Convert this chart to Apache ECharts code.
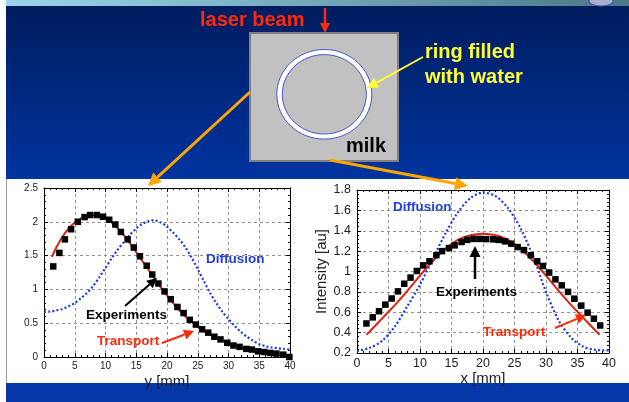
<!DOCTYPE html>
<html>
<head>
<meta charset="utf-8">
<script src="https://cdn.jsdelivr.net/npm/echarts@6/dist/echarts.min.js"></script>
<style>
  html, body { margin: 0; padding: 0; background: #fff; }
  #chart { width: 629px; height: 402px; }
</style>
</head>
<body>
<div id="chart"></div>
<script>
// left plot: profile along y
var leftExpX = [1.5, 2.5, 3.4, 4.4, 5.5, 6.6, 7.5, 8.6, 9.6, 10.6, 11.6, 12.5, 13.6, 14.6, 15.6, 16.7, 17.6, 18.6, 19.6, 20.6,
    21.7, 22.7, 23.7, 24.7, 25.7, 26.7, 27.7, 28.7, 29.8, 30.8, 31.8, 32.9, 33.8, 34.8, 35.8, 36.8, 37.8, 38.9, 39.9];
var leftExpY = [1.34, 1.54, 1.74, 1.89, 2.0, 2.07, 2.1, 2.1, 2.075, 2.03, 1.96, 1.85, 1.74, 1.62, 1.49, 1.35, 1.22, 1.087, 0.97, 0.855,
    0.74, 0.65, 0.55, 0.48, 0.41, 0.36, 0.3, 0.26, 0.21, 0.17, 0.15, 0.12, 0.11, 0.084, 0.074, 0.06, 0.05, 0.035, 0.0];
var leftTransX = [1.3, 2, 3, 4, 5, 6, 7, 8, 9, 10, 11, 12, 13, 14, 15, 16, 17, 18, 19, 20,
    21, 22, 23, 24, 25, 26, 27, 28, 29, 30, 31, 32, 33, 34, 35, 36, 37, 38, 39, 39.8];
var leftTransY = [1.48, 1.62, 1.78, 1.9, 1.99, 2.05, 2.09, 2.1, 2.09, 2.05, 1.99, 1.9, 1.8, 1.68, 1.55, 1.42, 1.29, 1.16, 1.03, 0.91,
    0.8, 0.69, 0.6, 0.52, 0.45, 0.38, 0.33, 0.28, 0.24, 0.2, 0.17, 0.14, 0.12, 0.1, 0.08, 0.065, 0.05, 0.04, 0.03, 0.02];
var leftDiffX = [0, 1, 2, 3, 4, 5, 6, 7, 8, 9, 10, 11, 12, 13, 14, 15, 16, 17, 17.5, 18, 19, 20,
    21, 22, 23, 24, 25, 26, 27, 28, 29, 30, 31, 32, 33, 34, 35, 36, 37, 38, 39, 40];
var leftDiffY = [0.67, 0.67, 0.69, 0.71, 0.75, 0.8, 0.87, 0.95, 1.05, 1.18, 1.32, 1.46, 1.59, 1.7, 1.81, 1.9, 1.97, 2.01, 2.02, 2.02, 1.99, 1.93,
    1.84, 1.74, 1.62, 1.47, 1.3, 1.12, 0.95, 0.8, 0.67, 0.56, 0.46, 0.37, 0.3, 0.24, 0.19, 0.16, 0.14, 0.13, 0.12, 0.11];

// right plot: profile along x
var rightExpX = [1.5, 2.5, 3.5, 4.5, 5.5, 6.5, 7.5, 8.5, 9.5, 10.5, 11.5, 12.6, 13.5, 14.6, 15.5, 16.6, 17.5, 18.5, 19.5,
    20.5, 21.6, 22.5, 23.5, 24.5, 25.5, 26.5, 27.6, 28.6, 29.5, 30.5, 31.5, 32.5, 33.5, 34.5, 35.6, 36.6, 37.6, 38.6];
var rightExpY = [0.49, 0.55, 0.61, 0.675, 0.735, 0.805, 0.88, 0.94, 1.005, 1.06, 1.1, 1.16, 1.2, 1.23, 1.257, 1.29, 1.31, 1.32, 1.32,
    1.318, 1.316, 1.31, 1.296, 1.273, 1.24, 1.21, 1.16, 1.1, 1.054, 0.99, 0.923, 0.864, 0.8, 0.733, 0.665, 0.596, 0.537, 0.47];
var rightTransX = [1.5, 2, 4, 6, 8, 10, 12, 14, 16, 18, 20, 22, 24, 26, 28, 30, 32, 34, 36, 38, 38.5];
var rightTransY = [0.38, 0.41, 0.54, 0.67, 0.81, 0.96, 1.1, 1.22, 1.31, 1.355, 1.37, 1.355, 1.31, 1.22, 1.1, 0.96, 0.81, 0.67, 0.54, 0.41, 0.38];
var rightDiffX = [0, 2, 4, 6, 8, 10, 12, 14, 16, 18, 20, 22, 24, 26, 28, 30, 32, 34, 36, 38, 40];
var rightDiffY = [0.22, 0.25, 0.32, 0.46, 0.66, 0.87, 1.12, 1.37, 1.58, 1.72, 1.775, 1.74, 1.62, 1.42, 1.14, 0.8, 0.52, 0.35, 0.26, 0.23, 0.225];

var leftYTicks = { min: 0, max: 2.5, step: 0.5 };
var rightYTicks = { min: 0.2, max: 1.8, step: 0.2 };

function pairs(xs, ys) {
    return xs.map(function (x, i) { return [x, ys[i]]; });
}

function arrow(x1, y1, x2, y2, color, w, head) {
    var a = Math.atan2(y2 - y1, x2 - x1);
    var bx = x2 - head * Math.cos(a), by = y2 - head * Math.sin(a);
    var px = -Math.sin(a) * head * 0.5, py = Math.cos(a) * head * 0.5;
    return [
        { type: 'line', z: 100, shape: { x1: x1, y1: y1, x2: bx, y2: by }, style: { stroke: color, lineWidth: w } },
        { type: 'polygon', z: 100, shape: { points: [[x2, y2], [bx + px, by + py], [bx - px, by - py]] }, style: { fill: color } }
    ];
}

function label(txt, x, y, color, size, align) {
    return {
        type: 'text', z: 100, x: x, y: y,
        style: {
            text: txt, fill: color, font: 'bold ' + size + 'px "Liberation Sans", Arial, sans-serif',
            align: align || 'left', verticalAlign: 'middle'
        }
    };
}

var font = '"Liberation Sans", Arial, sans-serif';
var gridLine = { show: true, lineStyle: { color: '#777', type: [3, 3], width: 0.8 } };

function xAxes(gi, labelSize, name, nameGap) {
    return [{
        gridIndex: gi, type: 'value', min: 0, max: 40, interval: 5, position: 'bottom',
        axisLine: { show: true, onZero: false, lineStyle: { color: '#000', width: 1 } },
        axisTick: { inside: true, length: 4, lineStyle: { color: '#000' } },
        minorTick: { show: true, splitNumber: 5, length: 2, lineStyle: { color: '#000' } },
        splitLine: gridLine,
        axisLabel: { fontSize: labelSize, color: '#222', fontFamily: font, margin: 4 },
        name: name, nameLocation: 'middle', nameGap: nameGap,
        nameTextStyle: { fontSize: 15, color: '#222', fontFamily: font }
    }, {
        gridIndex: gi, type: 'value', min: 0, max: 40, interval: 5, position: 'top',
        axisLine: { show: true, onZero: false, lineStyle: { color: '#000', width: 1 } },
        axisTick: { inside: true, length: 4, lineStyle: { color: '#000' } },
        minorTick: { show: true, splitNumber: 5, length: 2, lineStyle: { color: '#000' } },
        splitLine: { show: false }, axisLabel: { show: false }
    }];
}

function yAxes(gi, t, labelSize, name) {
    return [{
        gridIndex: gi, type: 'value', min: t.min, max: t.max, interval: t.step, position: 'left',
        axisLine: { show: true, onZero: false, lineStyle: { color: '#000', width: 1 } },
        axisTick: { inside: true, length: 4, lineStyle: { color: '#000' } },
        minorTick: { show: true, splitNumber: 5, length: 2, lineStyle: { color: '#000' } },
        splitLine: gridLine,
        axisLabel: { fontSize: labelSize, color: '#222', fontFamily: font, margin: 6 },
        name: name, nameLocation: 'middle', nameRotate: 90, nameGap: 28,
        nameTextStyle: { fontSize: 15, color: '#222', fontFamily: font }
    }, {
        gridIndex: gi, type: 'value', min: t.min, max: t.max, interval: t.step, position: 'right',
        axisLine: { show: true, onZero: false, lineStyle: { color: '#000', width: 1 } },
        axisTick: { inside: true, length: 4, lineStyle: { color: '#000' } },
        minorTick: { show: true, splitNumber: 5, length: 2, lineStyle: { color: '#000' } },
        splitLine: { show: false }, axisLabel: { show: false }
    }];
}

function seriesFor(xi, yi, diff, trans, exp) {
    return [{
        type: 'line', xAxisIndex: xi, yAxisIndex: yi, data: diff, smooth: 0.3, showSymbol: false, z: 3,
        lineStyle: { color: '#1a3be4', width: 2.2, type: [2, 2.2] }
    }, {
        type: 'line', xAxisIndex: xi, yAxisIndex: yi, data: trans, smooth: 0.3, showSymbol: false, z: 4,
        lineStyle: { color: '#dd2211', width: 2 }
    }, {
        type: 'scatter', xAxisIndex: xi, yAxisIndex: yi, data: exp, symbol: 'rect', symbolSize: 6.5, z: 5,
        itemStyle: { color: '#000', opacity: 1 }
    }];
}

var graphics = [
    // slide background
    { type: 'rect', z: -10, shape: { x: 0, y: 0, width: 629, height: 402 }, style: { fill: '#fff' } },
    { type: 'rect', z: -10, shape: { x: 6, y: 0, width: 623, height: 6 },
        style: { fill: new echarts.graphic.LinearGradient(0, 0, 1, 0, [{ offset: 0, color: '#9bd6ec' }, { offset: 1, color: '#4b7886' }]) } },
    { type: 'rect', z: -10, shape: { x: 6, y: 6, width: 623, height: 173 },
        style: { fill: new echarts.graphic.LinearGradient(0, 0, 0, 1, [{ offset: 0, color: '#001c5f' }, { offset: 1, color: '#0034a0' }]) } },
    { type: 'rect', z: -10, shape: { x: 6, y: 383, width: 623, height: 19 }, style: { fill: '#0537a8' } },
    { type: 'rect', z: -10, shape: { x: 7, y: 179, width: 622, height: 204 }, style: { fill: '#fff' } },
    { type: 'line', z: -9, shape: { x1: 6.5, y1: 179, x2: 6.5, y2: 383 }, style: { stroke: '#999', lineWidth: 1 } },
    { type: 'ellipse', z: -9, shape: { cx: 601, cy: 1, rx: 12, ry: 5 }, style: { fill: '#a8aed0', stroke: '#3a4a9a', lineWidth: 1 } },
    // milk box with ring
    { type: 'rect', z: 50, shape: { x: 250, y: 33, width: 148, height: 128 }, style: { fill: '#c0c1c0', stroke: '#808080', lineWidth: 2 } },
    { type: 'ellipse', z: 51, shape: { cx: 324.3, cy: 94.3, rx: 44.8, ry: 42.3 }, style: { fill: 'none', stroke: '#fff', lineWidth: 5 } },
    { type: 'ellipse', z: 52, shape: { cx: 324.3, cy: 94.3, rx: 47.5, ry: 44.8 }, style: { fill: 'none', stroke: '#4a55cc', lineWidth: 1 } },
    { type: 'ellipse', z: 52, shape: { cx: 324.3, cy: 94.3, rx: 42, ry: 39.7 }, style: { fill: 'none', stroke: '#4a55cc', lineWidth: 1 } },
    label('milk', 346, 146, '#000', 20),
    label('laser beam', 200, 20, '#ff2a0a', 20),
    label('ring filled', 425, 52, '#ffff33', 20),
    label('with water', 425, 77, '#ffff33', 20),
    // chart annotations
    label('Diffusion', 206, 259, '#2340dd', 13.5),
    label('Experiments', 86, 315, '#000', 13.5),
    label('Transport', 97, 341, '#ff2a0a', 13.5),
    label('Diffusion', 393, 207, '#2340dd', 13.5),
    label('Experiments', 436, 292, '#000', 13.5),
    label('Transport', 483, 332, '#ff2a0a', 13.5)
];
graphics = graphics
    .concat(arrow(325, 8, 325, 33, '#ff2a0a', 2.5, 10))
    .concat(arrow(423, 57, 367, 88, '#ffff33', 2, 11))
    .concat(arrow(250, 92, 148, 186, '#ffa500', 3, 13))
    .concat(arrow(330, 160, 468, 186, '#ffa500', 3, 13))
    .concat(arrow(125, 306, 157, 278, '#000', 2, 10))
    .concat(arrow(162, 343, 194, 331, '#ff2a0a', 2, 10))
    .concat(arrow(475, 279, 475, 246, '#000', 2.5, 11))
    .concat(arrow(555, 328, 586, 315, '#ff2a0a', 2, 10));

var myChart = echarts.init(document.getElementById('chart'), null, { renderer: 'canvas' });
var option = {
    animation: false,
    backgroundColor: '#fff',
    grid: [
        { left: 44, top: 188, width: 246, height: 169 },
        { left: 357, top: 190, width: 252, height: 163 }
    ],
    xAxis: xAxes(0, 10, 'y [mm]', 17).concat(xAxes(1, 12.5, 'x [mm]', 14)),
    yAxis: yAxes(0, leftYTicks, 10, '').concat(yAxes(1, rightYTicks, 12.5, 'Intensity [au]')),
    series: seriesFor(0, 0, pairs(leftDiffX, leftDiffY), pairs(leftTransX, leftTransY), pairs(leftExpX, leftExpY))
        .concat(seriesFor(2, 2, pairs(rightDiffX, rightDiffY), pairs(rightTransX, rightTransY), pairs(rightExpX, rightExpY))),
    graphic: { elements: graphics }
};
myChart.setOption(option);
</script>
</body>
</html>
